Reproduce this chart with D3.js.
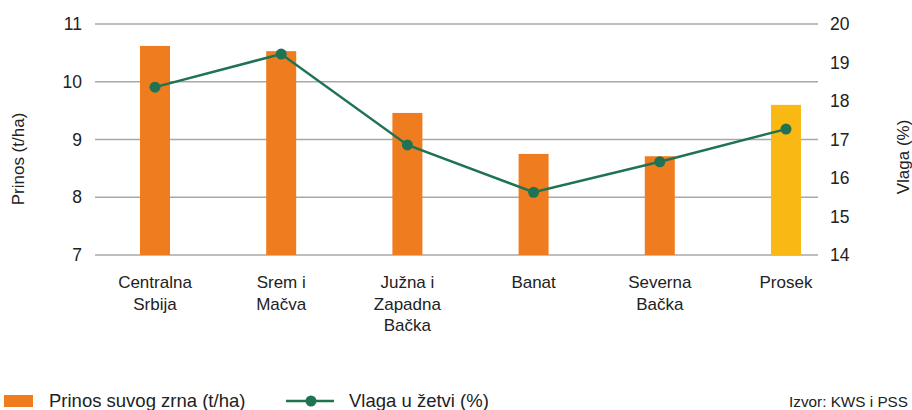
<!DOCTYPE html>
<html>
<head>
<meta charset="utf-8">
<script src="https://cdn.jsdelivr.net/npm/d3@7"></script>
<style>
  body { margin: 0; background: #fff; }
  text { font-family: "Liberation Sans", Arial, sans-serif; fill: #222; }
</style>
</head>
<body>
<svg width="912" height="410"></svg>
<script>
// data
var categories = ["Centralna Srbija", "Srem i Mačva", "Južna i Zapadna Bačka", "Banat", "Severna Bačka", "Prosek"];
var categoryLines = [["Centralna", "Srbija"], ["Srem i", "Mačva"], ["Južna i", "Zapadna", "Bačka"], ["Banat"], ["Severna", "Bačka"], ["Prosek"]];
var prinos = [10.62, 10.53, 9.46, 8.75, 8.71, 9.60];
var vlaga = [18.36, 19.22, 16.86, 15.63, 16.42, 17.27];
var leftTicks = [7, 8, 9, 10, 11];
var rightTicks = [14, 15, 16, 17, 18, 19, 20];

var svg = d3.select("svg"),
    gridLeft = 95, gridRight = 818,
    plotTop = 24, plotBottom = 255;

var x = d3.scalePoint().domain(categories).range([155, 786]);
var yL = d3.scaleLinear().domain([7, 11]).range([plotBottom, plotTop]);
var yR = d3.scaleLinear().domain([14, 20]).range([plotBottom, plotTop]);

// gridlines
svg.append("g").selectAll("line")
    .data(leftTicks)
    .enter().append("line")
    .attr("x1", gridLeft).attr("x2", gridRight)
    .attr("y1", function(d) { return yL(d); })
    .attr("y2", function(d) { return yL(d); })
    .style("stroke", "#a8a8a8")
    .style("stroke-width", 1.5);

// left axis
var axL = svg.append("g")
    .attr("transform", "translate(" + gridLeft + ",0)")
    .call(d3.axisLeft(yL).tickValues(leftTicks).tickFormat(d3.format("d")).tickSize(0).tickPadding(13));
axL.select(".domain").remove();
axL.selectAll("text").style("font-size", "17.5px").style("font-family", null);

// right axis
var axR = svg.append("g")
    .attr("transform", "translate(" + gridRight + ",0)")
    .call(d3.axisRight(yR).tickValues(rightTicks).tickFormat(d3.format("d")).tickSize(0).tickPadding(12));
axR.select(".domain").remove();
axR.selectAll("text").style("font-size", "17.5px").style("font-family", null);

// bars
var barW = 30;
svg.append("g").selectAll("rect")
    .data(prinos)
    .enter().append("rect")
    .attr("x", function(d, i) { return x(categories[i]) - barW / 2; })
    .attr("y", function(d) { return yL(d); })
    .attr("width", barW)
    .attr("height", function(d) { return yL(7) - yL(d); })
    .style("fill", function(d, i) { return i == categories.length - 1 ? "#f9b814" : "#f07c20"; });

// line
var line = d3.line()
    .x(function(d, i) { return x(categories[i]); })
    .y(function(d) { return yR(d); });

svg.append("path")
    .datum(vlaga)
    .attr("d", line)
    .style("fill", "none")
    .style("stroke", "#1f7352")
    .style("stroke-width", 2.5);

svg.append("g").selectAll("circle")
    .data(vlaga)
    .enter().append("circle")
    .attr("cx", function(d, i) { return x(categories[i]); })
    .attr("cy", function(d) { return yR(d); })
    .attr("r", 5.5)
    .style("fill", "#1f7352");

// category labels
var cat = svg.append("g").selectAll("text")
    .data(categoryLines)
    .enter().append("text")
    .attr("text-anchor", "middle")
    .style("font-size", "17px");
cat.selectAll("tspan")
    .data(function(d, i) { return d.map(function(t) { return {t: t, i: i}; }); })
    .enter().append("tspan")
    .attr("x", function(d) { return x(categories[d.i]); })
    .attr("y", function(d, j) { return 288 + j * 21.5; })
    .text(function(d) { return d.t; });

// axis titles
svg.append("text")
    .attr("transform", "translate(24,159) rotate(-90)")
    .attr("text-anchor", "middle")
    .style("font-size", "17px")
    .text("Prinos (t/ha)");

svg.append("text")
    .attr("transform", "translate(909,157) rotate(-90)")
    .attr("text-anchor", "middle")
    .style("font-size", "17px")
    .text("Vlaga (%)");

// legend
svg.append("rect")
    .attr("x", 4).attr("y", 395)
    .attr("width", 29).attr("height", 12)
    .style("fill", "#f07c20");
svg.append("text")
    .attr("x", 49).attr("y", 407)
    .style("font-size", "18.5px")
    .text("Prinos suvog zrna (t/ha)");

svg.append("line")
    .attr("x1", 286).attr("x2", 334)
    .attr("y1", 401).attr("y2", 401)
    .style("stroke", "#1f7352")
    .style("stroke-width", 2.5);
svg.append("circle")
    .attr("cx", 311).attr("cy", 401).attr("r", 5.5)
    .style("fill", "#1f7352");
svg.append("text")
    .attr("x", 349).attr("y", 407)
    .style("font-size", "18.5px")
    .text("Vlaga u žetvi (%)");

svg.append("text")
    .attr("x", 908).attr("y", 407)
    .attr("text-anchor", "end")
    .style("font-size", "15.3px")
    .text("Izvor: KWS i PSS");
</script>
</body>
</html>
